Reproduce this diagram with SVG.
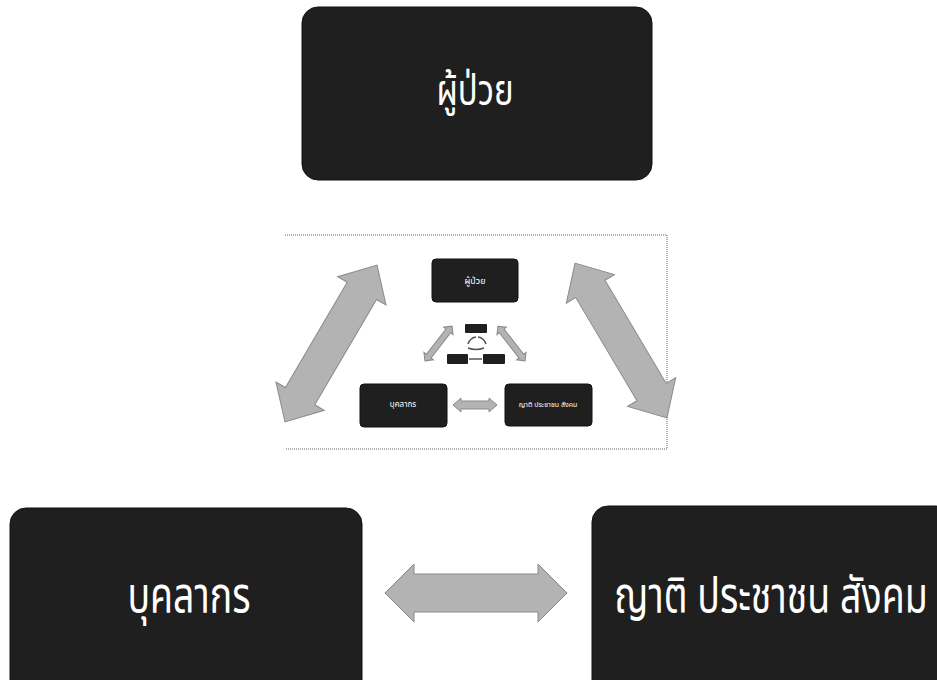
<svg xmlns="http://www.w3.org/2000/svg" width="937" height="680" viewBox="0 0 937 680">
<style>
.node{fill:#1f1f1f;stroke:#111;stroke-width:1}
.lbl{fill:#ffffff;font-family:"Noto Sans Thai","Noto Sans","DejaVu Sans",sans-serif;text-anchor:middle;dominant-baseline:central}
.arrow{fill:#b3b3b3;stroke:#8a8a8a;stroke-width:1}
.frame{fill:none;stroke:#666;stroke-width:1;stroke-dasharray:1 1}
.tiny{fill:#1f1f1f}
.cyc{fill:none;stroke:#555;stroke-width:1.5}
</style>
<rect width="937" height="680" fill="#ffffff"/>

<g id="node-patient">
<rect class="node" x="302" y="7" width="350" height="173" rx="16"/>
<text class="lbl" transform="translate(475,92) scale(1,1.3)" font-size="33">ผู้ป่วย</text>
</g>
<g id="node-staff">
<rect class="node" x="10" y="508" width="352" height="190" rx="16"/>
<text class="lbl" transform="translate(189,598) scale(1,1.33)" font-size="37.5">บุคลากร</text>
</g>
<g id="node-relatives">
<rect class="node" x="592" y="506" width="360" height="190" rx="16"/>
<text class="lbl" transform="translate(771,598) scale(1,1.33)" font-size="37.5">ญาติ ประชาชน สังคม</text>
</g>

<g id="connectors">
<polygon class="arrow" points="385,593 414,564 414,574 538,574 538,564 567,593 538,622 538,612 414,612 414,622"/>
</g>

<g id="inset">
<path class="frame" d="M285,235 H667 V449 H285"/>
<polygon class="arrow" transform="translate(331,343.5) rotate(-59.6)" points="-91,0 -61,-28 -61,-17 61,-17 61,-28 91,0 61,28 61,17 -61,17 -61,28"/>
<polygon class="arrow" transform="translate(621,340.5) rotate(59.3)" points="-90,0 -60,-28 -60,-17 60,-17 60,-28 90,0 60,28 60,17 -60,17 -60,28"/>
<rect class="node" x="432" y="259" width="86" height="43" rx="4"/>
<text class="lbl" x="475" y="281" font-size="9">ผู้ป่วย</text>
<rect class="node" x="360" y="384" width="87" height="43" rx="4"/>
<text class="lbl" x="403" y="405" font-size="8">บุคลากร</text>
<rect class="node" x="505" y="384" width="87" height="42" rx="4"/>
<text class="lbl" x="548" y="405" font-size="7">ญาติ ประชาชน สังคม</text>
<polygon class="arrow" points="453,405 461,398 461,401 489,401 489,398 497,405 489,412 489,409 461,409 461,412"/>
<polygon class="arrow" transform="translate(438.5,343.5) rotate(-52)" points="-22,0 -16,-6 -16,-3 16,-3 16,-6 22,0 16,6 16,3 -16,3 -16,6"/>
<polygon class="arrow" transform="translate(511.5,343.5) rotate(52)" points="-22,0 -16,-6 -16,-3 16,-3 16,-6 22,0 16,6 16,3 -16,3 -16,6"/>
<rect class="tiny" x="465" y="324" width="22" height="9" rx="1"/>
<rect class="tiny" x="447" y="354" width="21" height="10" rx="1"/>
<rect class="tiny" x="483" y="354" width="22" height="10" rx="1"/>
<path class="cyc" d="M468,344 Q470,338 476,337"/>
<path class="cyc" d="M478,337 Q484,338 486,344"/>
<path class="cyc" d="M484,348 Q476,351 468,348"/>
<path class="cyc" d="M469,359 H482"/>
</g>
</svg>
